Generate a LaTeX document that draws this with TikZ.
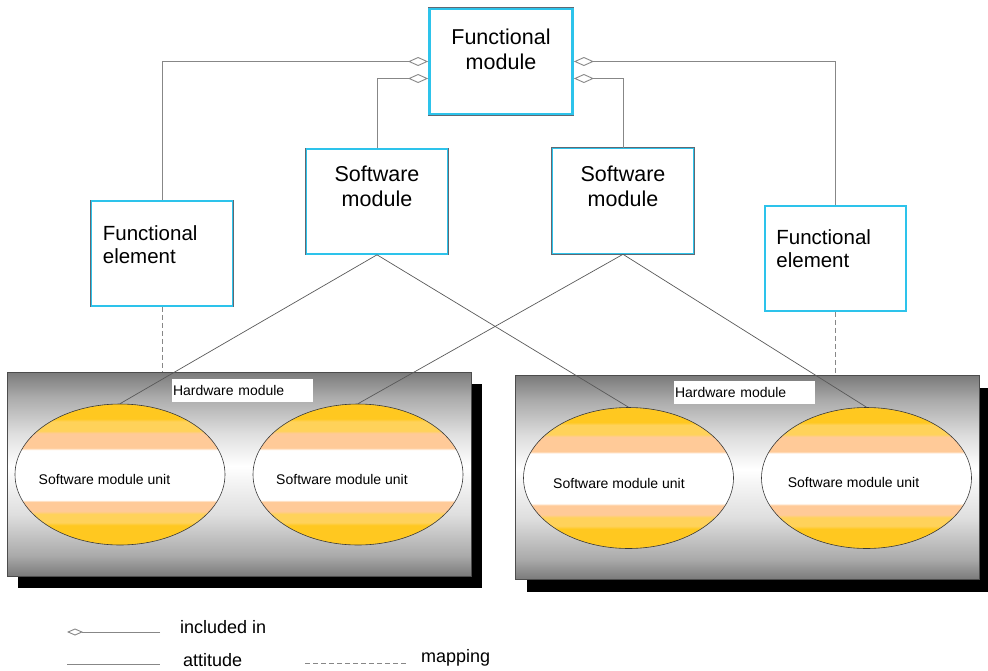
\documentclass[tikz,border=0pt]{standalone}
\usepackage{fontspec}
\setmainfont{Liberation Sans}
\usetikzlibrary{arrows.meta,shapes.geometric,shadows,positioning}

\definecolor{boxcyan}{RGB}{45,195,235}
\definecolor{rimgray}{RGB}{95,105,115}
\definecolor{linegray}{RGB}{135,135,135}
\definecolor{hwdark}{RGB}{122,122,122}
\definecolor{hwmid}{RGB}{170,170,170}
\definecolor{hwlight}{RGB}{222,222,222}
\definecolor{unityellow}{RGB}{255,200,32}
\definecolor{unitlight}{RGB}{255,210,90}
\definecolor{unitpeach}{RGB}{255,202,152}

\pgfdeclareverticalshading{hwshade}{100bp}{color(0bp)=(hwdark); color(25bp)=(hwdark); color(30bp)=(hwmid); color(40bp)=(hwlight); color(52bp)=(white); color(60bp)=(hwlight); color(69bp)=(hwmid); color(75bp)=(hwdark); color(100bp)=(hwdark)}
\pgfdeclareverticalshading{unitshade}{100bp}{color(0bp)=(unityellow); color(32bp)=(unityellow); color(33bp)=(unitlight); color(36bp)=(unitlight); color(37bp)=(unitpeach); color(40.3bp)=(unitpeach); color(41bp)=(white); color(58.7bp)=(white); color(59.4bp)=(unitpeach); color(64.6bp)=(unitpeach); color(65.5bp)=(unitlight); color(68.8bp)=(unitlight); color(69.8bp)=(unityellow); color(100bp)=(unityellow)}

\begin{document}
\begin{tikzpicture}[x=1pt,y=-1pt,
  fmbox/.style={draw=boxcyan,line width=2.8pt,preaction={draw=rimgray,line width=3.8pt},fill=white,minimum width=143pt,minimum height=105pt,inner sep=0pt},
  modbox/.style={draw=boxcyan,line width=1.6pt,preaction={draw=rimgray,line width=2.6pt},fill=white,minimum width=141pt,minimum height=105pt,inner sep=0pt},
  bigtext/.style={font=\fontsize{21.5}{25}\selectfont,align=center,inner sep=0pt},
  elemtext/.style={font=\fontsize{20.5}{23.5}\selectfont,align=left,inner sep=0pt,anchor=north west},
  hwbox/.style={shading=hwshade,draw=gray!60!black,line width=0.6pt,minimum width=464pt,minimum height=204pt,inner sep=0pt,
    drop shadow={shadow xshift=11pt,shadow yshift=-12pt,fill=black,opacity=1}},
  hwlabel/.style={fill=white,font=\fontsize{14}{16}\selectfont,minimum width=141pt,minimum height=23pt,inner xsep=1pt,inner ysep=0pt,text width=139pt,align=left},
  unit/.style={ellipse,shading=unitshade,draw=gray!45!black,line width=0.6pt,minimum width=210pt,minimum height=141pt,inner sep=0pt},
  unittext/.style={font=\fontsize{14}{16}\selectfont,inner sep=0pt},
  legtext/.style={font=\fontsize{18}{20}\selectfont,inner sep=0pt,anchor=base west},
  incl/.style={draw=linegray,line width=0.9pt,-{Diamond[open,length=20pt,width=9pt]}},
  attit/.style={draw=linegray,line width=0.9pt},
  mapto/.style={draw=linegray,line width=0.9pt,dash pattern=on 5pt off 3pt},
  deploy/.style={draw=gray!70!black,line width=0.7pt}]
\useasboundingbox (0,0) rectangle (988,670);

% boxes of the upper part
\node[fmbox] (fm) at (501,61.5) {};
\node[bigtext,below=21pt of fm.north] (fmtext) {Functional\\module};
\node[modbox] (fel) at (162,253.5) {};
\node[elemtext] (feltext) at ([xshift=12pt,yshift=-25pt]fel.north west) {Functional\\element};
\node[modbox] (sml) at (377,201.5) {};
\node[bigtext,below=18pt of sml.north] (smltext) {Software\\module};
\node[modbox] (smr) at (623,201) {};
\node[bigtext,below=18pt of smr.north] (smrtext) {Software\\module};
\node[modbox] (fer) at (835.5,258.5) {};
\node[elemtext] (fertext) at ([xshift=12pt,yshift=-24pt]fer.north west) {Functional\\element};

% hardware modules
\node[hwbox] (hwl) at (239,474) {};
\node[hwbox] (hwr) at (747.5,477.5) {};
\node[hwlabel] (hwltext) at (242.5,390.5) {Hardware module};
\node[hwlabel] (hwrtext) at (744.5,392.5) {Hardware module};

\node[unit] (u1) at (120,474.5) {};
\node[unit] (u2) at (358,474.5) {};
\node[unit] (u3) at (628.5,478) {};
\node[unit] (u4) at (866.5,478) {};
\node[unittext] at ([xshift=-15.5pt,yshift=-5pt]u1) {Software module unit};
\node[unittext] at ([xshift=-16pt,yshift=-5pt]u2) {Software module unit};
\node[unittext] at ([xshift=-9.5pt,yshift=-5pt]u3) {Software module unit};
\node[unittext] at ([xshift=-13pt,yshift=-4pt]u4) {Software module unit};

% connectors
\draw[incl] (fel.north) |- (fm.west);
\draw[incl] (sml.north) |- ([yshift=-17pt]fm.west);
\draw[incl] (fer.north) |- (fm.east);
\draw[incl] (smr.north) |- ([yshift=-17pt]fm.east);
\draw[mapto] (fel.south) -- (fel.south |- hwl.north);
\draw[mapto] (fer.south) -- (fer.south |- hwr.north);
\draw[deploy] (sml.south) -- (u1.north);
\draw[deploy] (sml.south) -- (u3.north);
\draw[deploy] (smr.south) -- (u2.north);
\draw[deploy] (smr.south) -- (u4.north);

% legend
\coordinate (inclA) at (67,632); \coordinate (inclB) at (160,632);
\coordinate (attA) at (67,664); \coordinate (attB) at (160,664);
\coordinate (mapA) at (305,663); \coordinate (mapB) at (408,663);
\draw[incl,-{Diamond[open,length=16pt,width=7pt]}] (inclB) -- (inclA);
\draw[attit] (attA) -- (attB);
\draw[mapto] (mapA) -- (mapB);
\node[legtext] (incltext) at (180,633) {included in};
\node[legtext] (atttext) at (183,666) {attitude};
\node[legtext] (maptext) at (421,662) {mapping};
\end{tikzpicture}
\end{document}
